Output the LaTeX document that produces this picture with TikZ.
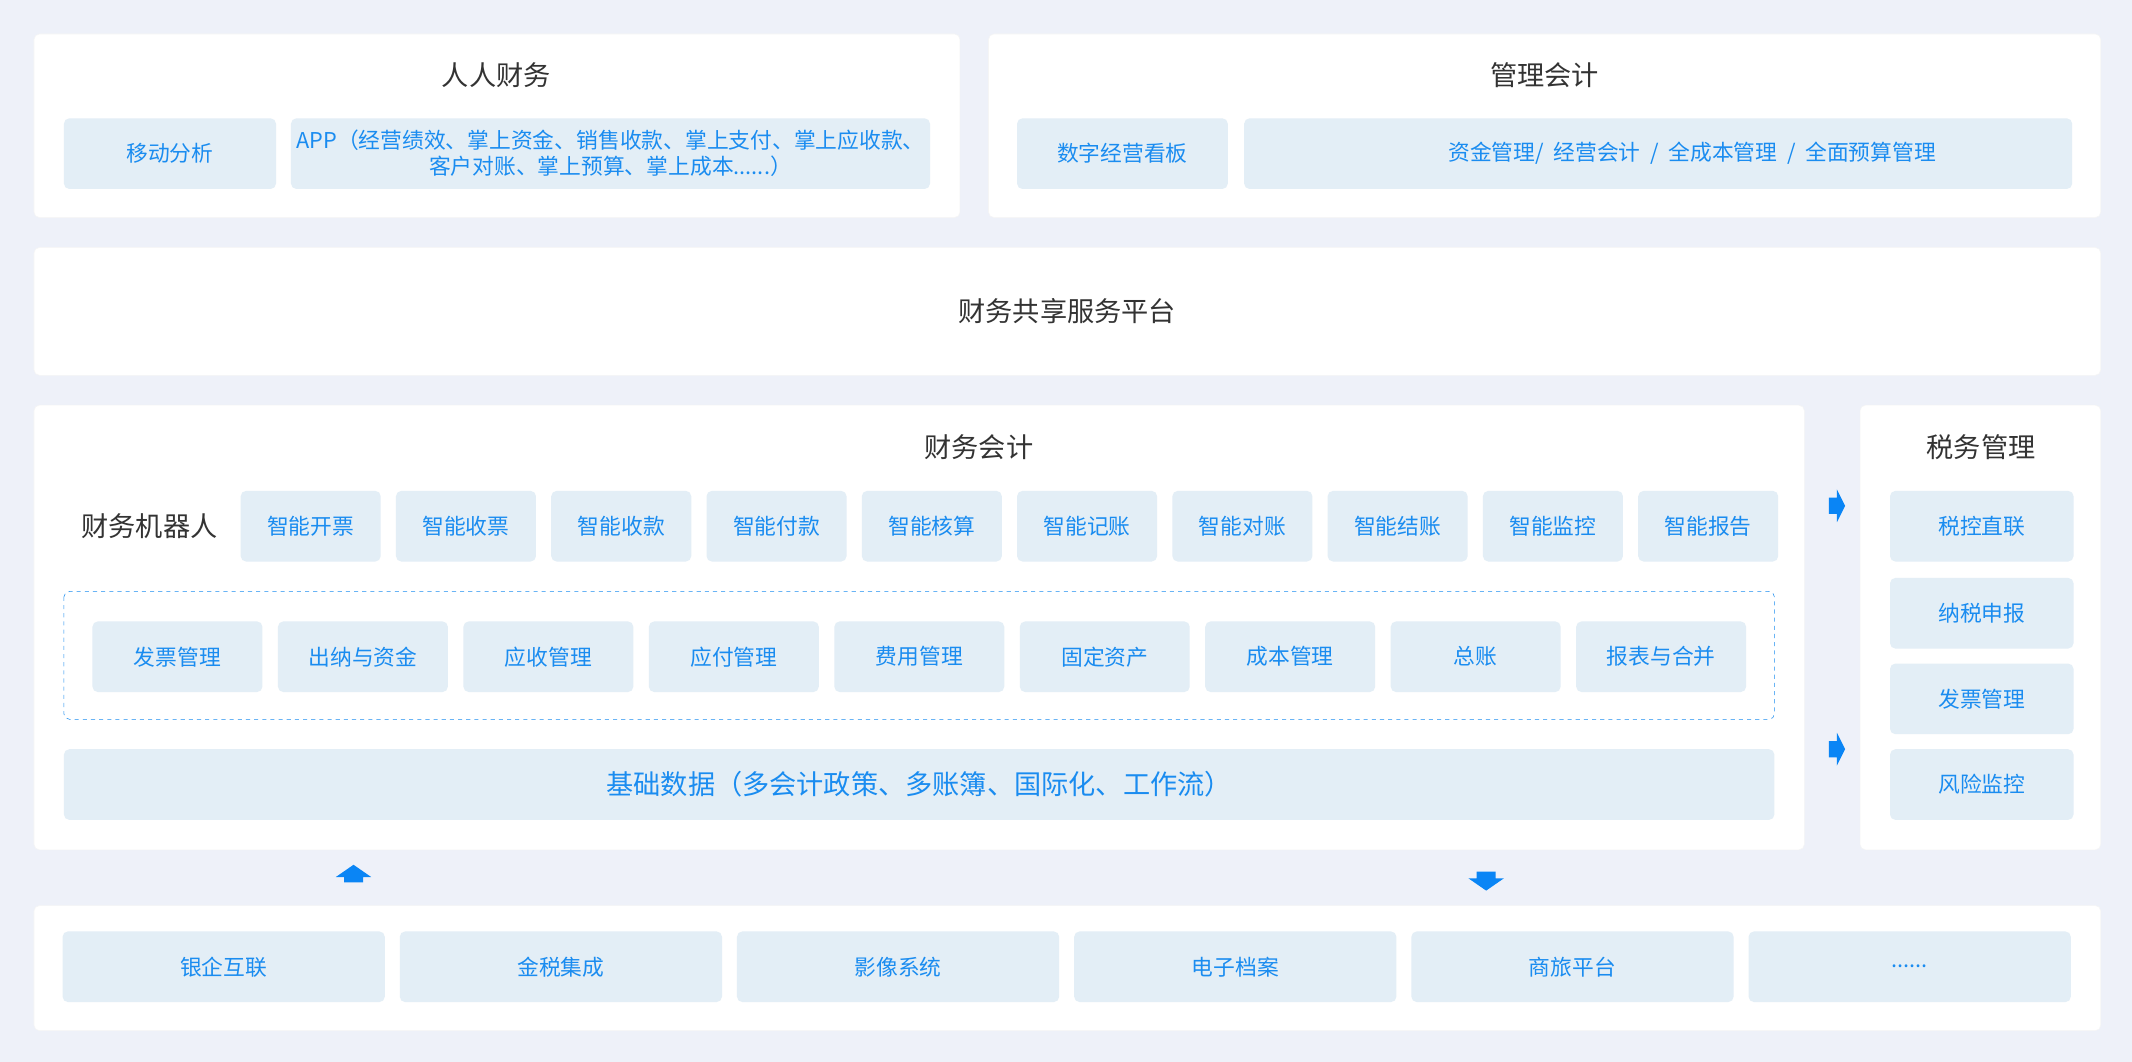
\documentclass[tikz,border=0pt]{standalone}
\usepackage{fontspec}
\setmainfont{Noto Sans CJK SC}
\begin{document}
\begin{tikzpicture}[x=1pt,y=-1pt,
  card/.style={fill=white,draw=black!4,rounded corners=4pt},
  bx/.style={fill=boxc,rounded corners=4pt,text=bluet,font=\fontsize{16}{19}\selectfont,align=center},
  ttl/.style={text=titc,font=\fontsize{20}{23}\selectfont},
  arr/.style={fill=arrc}]
\definecolor{bg}{HTML}{EEF1F9}
\definecolor{boxc}{HTML}{E3EEF6}
\definecolor{bluet}{HTML}{1A8CF0}
\definecolor{titc}{HTML}{333333}
\definecolor{arrc}{HTML}{0A85F5}
\fill[bg] (0,0) rectangle (1568,781);
\useasboundingbox (0,0) rectangle (1568,781);
\newcommand{\bxr}[5]{\node[bx,minimum width={(#3)-(#2)},minimum height={(#5)-(#4)}] (#1) at ({((#2)+(#3))/2},{((#4)+(#5))/2})}
% card 1
\draw[card] (25,25) rectangle (706,160);
\node[ttl] (t1) at (365,55) {人人财务};
\bxr{yd}{47}{203}{87}{139} {移动分析};
\bxr{app}{214}{684}{87}{139} {APP（经营绩效、掌上资金、销售收款、掌上支付、掌上应收款、\\客户对账、掌上预算、掌上成本......）};
% card 2
\draw[card] (727,25) rectangle (1545,160);
\node[ttl] (t2) at (1136,55) {管理会计};
\bxr{sz}{748}{903}{87}{139} {数字经营看板};
\bxr{zj}{915}{1524}{87}{139} {\hspace*{50pt}资金管理/\ \ 经营会计\ \ /\ \ 全成本管理\ \ /\ \ 全面预算管理};
% card 3
\draw[card] (25,182) rectangle (1545,276);
\node[ttl] (t3) at (785,229) {财务共享服务平台};
% card 4
\draw[card] (25,298) rectangle (1327,625);
\node[ttl] (t4) at (720,329) {财务会计};
\node[ttl] (jqr) at (110,387) {财务机器人};
\foreach \t [count=\i from 0] in {智能开票,智能收票,智能收款,智能付款,智能核算,智能记账,智能对账,智能结账,智能监控,智能报告}{
  \bxr{r\i}{177+114.2*\i}{280+114.2*\i}{361}{413} {\t};
}
\draw[bluet,dashed,rounded corners=4pt] (47,435) rectangle (1305,529);
\foreach \t [count=\i from 0] in {发票管理,出纳与资金,应收管理,应付管理,费用管理,固定资产,成本管理,总账,报表与合并}{
  \bxr{m\i}{68+136.4*\i}{193+136.4*\i}{457}{509} {\t};
}
\node[bx,minimum width=1258,minimum height=52,font=\fontsize{20}{23}\selectfont] (jc) at (676,577) {基础数据（多会计政策、多账簿、国际化、工作流）};
% card 5
\draw[card] (1368,298) rectangle (1545,625);
\node[ttl] (t5) at (1457,329) {税务管理};
\foreach \t/\a/\b [count=\i] in {税控直联/361/413,纳税申报/425/477,发票管理/488/540,风险监控/551/603}{
  \bxr{s\i}{1390}{1525}{\a}{\b} {\t};
}
% arrows
\foreach \y in {372,551}{
  \fill[arr] (1345,\y-6) -- (1351,\y-6) -- (1351,\y-12) -- (1357,\y) -- (1351,\y+12) -- (1351,\y+6) -- (1345,\y+6) -- cycle;
}
\fill[arr] (253,649) -- (253,645) -- (247,645) -- (260,636) -- (273,645) -- (267,645) -- (267,649) -- cycle;
\fill[arr] (1086,641) -- (1100,641) -- (1100,646) -- (1106,646) -- (1093,655) -- (1080,646) -- (1086,646) -- cycle;
% card 6
\draw[card] (25,666) rectangle (1545,758);
\foreach \t [count=\i from 0] in {银企互联,金税集成,影像系统,电子档案,商旅平台}{
  \bxr{b\i}{46+248*\i}{283+248*\i}{685}{737} {\t};
}
\bxr{b5}{1286}{1523}{685}{737} {......};
\end{tikzpicture}
\end{document}
